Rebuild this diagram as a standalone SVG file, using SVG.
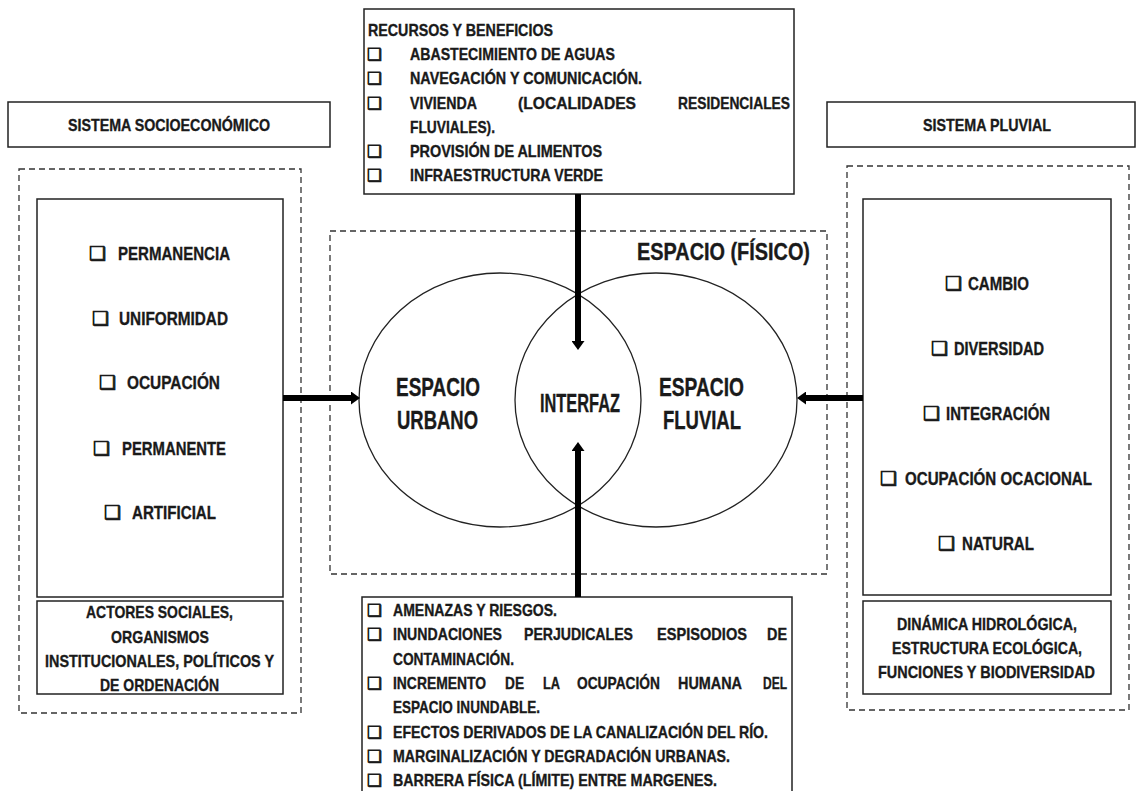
<svg xmlns="http://www.w3.org/2000/svg" width="1137" height="791" viewBox="0 0 1137 791">
<defs>
<style>
.t{font-family:"Liberation Sans",Arial,sans-serif;font-weight:bold;fill:#1a1a1a;stroke:#1a1a1a;stroke-width:0.35}
.s16{font-size:16.5px}
.s17{font-size:17px}
.s19{font-size:19px}
.s23{font-size:23px}
.s25{font-size:25px}
.cb{font-family:"DejaVu Sans",sans-serif;font-weight:normal;fill:#1a1a1a;stroke:#1a1a1a;stroke-width:0.8}
.box{fill:#fff;stroke:#222;stroke-width:1.5}
.dash{fill:none;stroke:#333;stroke-width:1.3;stroke-dasharray:6 4}
.ell{fill:none;stroke:#222;stroke-width:1.3}
.arr{stroke:#000;stroke-width:6;fill:none}
</style>
<marker id="ah" viewBox="0 0 9 13" refX="0" refY="6.5" markerWidth="9" markerHeight="13" markerUnits="userSpaceOnUse" orient="auto">
<path d="M0,0 L9,6.5 L0,13 z" fill="#000"/>
</marker>
</defs>
<rect width="1137" height="791" fill="#fff"/>

<g id="espacio-fisico">
<rect class="dash" x="330" y="231" width="497" height="343"/>
<text class="t s23" x="637" y="260" textLength="173" lengthAdjust="spacingAndGlyphs">ESPACIO (FÍSICO)</text>
</g>

<g id="espacio-urbano">
<ellipse class="ell" cx="500" cy="400" rx="141" ry="127"/>
<text class="t s25" x="396" y="396" textLength="84" lengthAdjust="spacingAndGlyphs">ESPACIO</text>
<text class="t s25" x="397" y="429" textLength="81" lengthAdjust="spacingAndGlyphs">URBANO</text>
</g>

<g id="espacio-fluvial">
<ellipse class="ell" cx="656" cy="400" rx="141" ry="127"/>
<text class="t s25" x="659" y="396" textLength="85" lengthAdjust="spacingAndGlyphs">ESPACIO</text>
<text class="t s25" x="663" y="429" textLength="78" lengthAdjust="spacingAndGlyphs">FLUVIAL</text>
</g>

<g id="interfaz">
<text class="t s25" x="540" y="412" textLength="80" lengthAdjust="spacingAndGlyphs">INTERFAZ</text>
</g>

<g id="sistema-socioeconomico-titulo">
<rect class="box" x="8" y="102" width="322" height="45"/>
<text class="t s17" x="68" y="131" textLength="202" lengthAdjust="spacingAndGlyphs">SISTEMA SOCIOECONÓMICO</text>
</g>

<g id="sistema-pluvial-titulo">
<rect class="box" x="827" y="102" width="308" height="45"/>
<text class="t s17" x="923" y="131" textLength="128" lengthAdjust="spacingAndGlyphs">SISTEMA PLUVIAL</text>
</g>

<g id="sistema-socioeconomico">
<rect class="dash" x="19" y="169" width="282" height="544"/>
<rect class="box" x="37" y="199" width="246" height="398"/>
<text class="cb s19" x="89" y="260">❑</text>
<text class="t s19" x="118" y="260" textLength="112" lengthAdjust="spacingAndGlyphs">PERMANENCIA</text>
<text class="cb s19" x="92" y="325">❑</text>
<text class="t s19" x="119" y="325" textLength="109" lengthAdjust="spacingAndGlyphs">UNIFORMIDAD</text>
<text class="cb s19" x="99" y="389">❑</text>
<text class="t s19" x="127" y="389" textLength="93" lengthAdjust="spacingAndGlyphs">OCUPACIÓN</text>
<text class="cb s19" x="93" y="455">❑</text>
<text class="t s19" x="122" y="455" textLength="104" lengthAdjust="spacingAndGlyphs">PERMANENTE</text>
<text class="cb s19" x="104" y="519">❑</text>
<text class="t s19" x="132" y="519" textLength="84" lengthAdjust="spacingAndGlyphs">ARTIFICIAL</text>
</g>

<g id="actores-sociales">
<rect class="box" x="37" y="601" width="246" height="93"/>
<text class="t s17" x="86" y="618" textLength="147" lengthAdjust="spacingAndGlyphs">ACTORES SOCIALES,</text>
<text class="t s17" x="111" y="643" textLength="98" lengthAdjust="spacingAndGlyphs">ORGANISMOS</text>
<text class="t s17" x="45" y="667" textLength="229" lengthAdjust="spacingAndGlyphs">INSTITUCIONALES, POLÍTICOS Y</text>
<text class="t s17" x="100" y="691" textLength="119" lengthAdjust="spacingAndGlyphs">DE ORDENACIÓN</text>
</g>

<g id="sistema-pluvial">
<rect class="dash" x="847" y="166" width="282" height="544"/>
<rect class="box" x="863" y="199" width="248" height="396"/>
<text class="cb s19" x="945" y="290">❑</text>
<text class="t s19" x="968" y="290" textLength="61" lengthAdjust="spacingAndGlyphs">CAMBIO</text>
<text class="cb s19" x="931" y="355">❑</text>
<text class="t s19" x="954" y="355" textLength="90" lengthAdjust="spacingAndGlyphs">DIVERSIDAD</text>
<text class="cb s19" x="923" y="420">❑</text>
<text class="t s19" x="946" y="420" textLength="104" lengthAdjust="spacingAndGlyphs">INTEGRACIÓN</text>
<text class="cb s19" x="880" y="485">❑</text>
<text class="t s17" x="905" y="485" textLength="187" lengthAdjust="spacingAndGlyphs" style="font-size:18px">OCUPACIÓN OCACIONAL</text>
<text class="cb s19" x="938" y="550">❑</text>
<text class="t s19" x="962" y="550" textLength="72" lengthAdjust="spacingAndGlyphs">NATURAL</text>
</g>

<g id="dinamica-hidrologica">
<rect class="box" x="863" y="601" width="248" height="93"/>
<text class="t s17" x="897" y="630" textLength="180" lengthAdjust="spacingAndGlyphs">DINÁMICA HIDROLÓGICA,</text>
<text class="t s17" x="892" y="654" textLength="190" lengthAdjust="spacingAndGlyphs">ESTRUCTURA ECOLÓGICA,</text>
<text class="t s17" x="878" y="678" textLength="217" lengthAdjust="spacingAndGlyphs">FUNCIONES Y BIODIVERSIDAD</text>
</g>

<g id="recursos-beneficios">
<rect class="box" x="364" y="9" width="430" height="185"/>
<text class="t s16" x="368" y="36" textLength="185" lengthAdjust="spacingAndGlyphs">RECURSOS Y BENEFICIOS</text>
<text class="cb s16" x="367" y="60">❑</text>
<text class="t s16" x="410" y="60" textLength="205" lengthAdjust="spacingAndGlyphs">ABASTECIMIENTO DE AGUAS</text>
<text class="cb s16" x="367" y="84">❑</text>
<text class="t s16" x="410" y="84" textLength="232" lengthAdjust="spacingAndGlyphs">NAVEGACIÓN Y COMUNICACIÓN.</text>
<text class="cb s16" x="367" y="109">❑</text>
<text class="t s16" x="410" y="109" textLength="67" lengthAdjust="spacingAndGlyphs">VIVIENDA</text>
<text class="t s16" x="518" y="109" textLength="118" lengthAdjust="spacingAndGlyphs">(LOCALIDADES</text>
<text class="t s16" x="678" y="109" textLength="112" lengthAdjust="spacingAndGlyphs">RESIDENCIALES</text>
<text class="t s16" x="410" y="133" textLength="85" lengthAdjust="spacingAndGlyphs">FLUVIALES).</text>
<text class="cb s16" x="367" y="157">❑</text>
<text class="t s16" x="410" y="157" textLength="192" lengthAdjust="spacingAndGlyphs">PROVISIÓN DE ALIMENTOS</text>
<text class="cb s16" x="367" y="181">❑</text>
<text class="t s16" x="410" y="181" textLength="193" lengthAdjust="spacingAndGlyphs">INFRAESTRUCTURA VERDE</text>
</g>

<g id="amenazas-riesgos">
<rect class="box" x="362" y="597" width="430" height="210"/>
<text class="cb s16" x="367" y="616">❑</text>
<text class="t s16" x="393" y="616" textLength="164" lengthAdjust="spacingAndGlyphs">AMENAZAS Y RIESGOS.</text>
<text class="cb s16" x="367" y="640">❑</text>
<text class="t s16" x="393" y="640" textLength="109" lengthAdjust="spacingAndGlyphs">INUNDACIONES</text>
<text class="t s16" x="524" y="640" textLength="109" lengthAdjust="spacingAndGlyphs">PERJUDICALES</text>
<text class="t s16" x="657" y="640" textLength="90" lengthAdjust="spacingAndGlyphs">ESPISODIOS</text>
<text class="t s16" x="767" y="640" textLength="20" lengthAdjust="spacingAndGlyphs">DE</text>
<text class="t s16" x="393" y="665" textLength="121" lengthAdjust="spacingAndGlyphs">CONTAMINACIÓN.</text>
<text class="cb s16" x="367" y="689">❑</text>
<text class="t s16" x="393" y="689" textLength="93" lengthAdjust="spacingAndGlyphs">INCREMENTO</text>
<text class="t s16" x="505" y="689" textLength="19" lengthAdjust="spacingAndGlyphs">DE</text>
<text class="t s16" x="543" y="689" textLength="17" lengthAdjust="spacingAndGlyphs">LA</text>
<text class="t s16" x="577" y="689" textLength="83" lengthAdjust="spacingAndGlyphs">OCUPACIÓN</text>
<text class="t s16" x="678" y="689" textLength="64" lengthAdjust="spacingAndGlyphs">HUMANA</text>
<text class="t s16" x="763" y="689" textLength="24" lengthAdjust="spacingAndGlyphs">DEL</text>
<text class="t s16" x="393" y="713" textLength="147" lengthAdjust="spacingAndGlyphs">ESPACIO INUNDABLE.</text>
<text class="cb s16" x="367" y="738">❑</text>
<text class="t s16" x="393" y="738" textLength="375" lengthAdjust="spacingAndGlyphs">EFECTOS DERIVADOS DE LA CANALIZACIÓN DEL RÍO.</text>
<text class="cb s16" x="367" y="762">❑</text>
<text class="t s16" x="393" y="762" textLength="337" lengthAdjust="spacingAndGlyphs">MARGINALIZACIÓN Y DEGRADACIÓN URBANAS.</text>
<text class="cb s16" x="367" y="786">❑</text>
<text class="t s16" x="393" y="786" textLength="324" lengthAdjust="spacingAndGlyphs">BARRERA FÍSICA (LÍMITE) ENTRE MARGENES.</text>
</g>

<g id="connectors">
<line class="arr" x1="578" y1="194" x2="578" y2="341" marker-end="url(#ah)"/>
<line class="arr" x1="578" y1="597" x2="578" y2="451" marker-end="url(#ah)"/>
<line class="arr" x1="283" y1="398" x2="351" y2="398" marker-end="url(#ah)"/>
<line class="arr" x1="863" y1="398" x2="806" y2="398" marker-end="url(#ah)"/>
</g>
</svg>
